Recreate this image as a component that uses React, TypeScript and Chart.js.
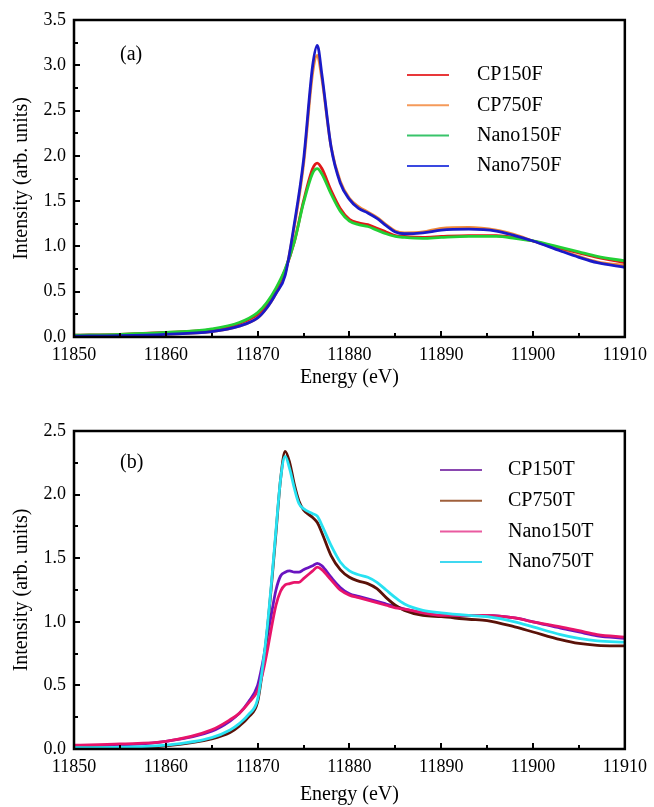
import React, { useEffect, useRef } from "react";
import { Chart, registerables } from "chart.js";
Chart.register(...registerables);

// ---------- Panel (a) data ----------
const energyA = [11850, 11855, 11860, 11865, 11868, 11870, 11871, 11872, 11873, 11874, 11875, 11876, 11876.5, 11877, 11878, 11879, 11880, 11881, 11882, 11883, 11884, 11885, 11886, 11888, 11890, 11893, 11896, 11898, 11900, 11903, 11905, 11907, 11910];
const cp150F = [0.02, 0.03, 0.05, 0.08, 0.15, 0.25, 0.36, 0.52, 0.74, 1.05, 1.5, 1.86, 1.92, 1.86, 1.62, 1.42, 1.3, 1.26, 1.24, 1.2, 1.16, 1.12, 1.11, 1.1, 1.11, 1.12, 1.12, 1.1, 1.06, 0.98, 0.93, 0.88, 0.82];
const cp750F = [0.01, 0.015, 0.03, 0.06, 0.12, 0.21, 0.32, 0.48, 0.7, 1.22, 1.9, 2.92, 3.11, 2.85, 2.1, 1.72, 1.53, 1.44, 1.38, 1.32, 1.24, 1.17, 1.15, 1.16, 1.2, 1.21, 1.18, 1.13, 1.06, 0.96, 0.89, 0.83, 0.79];
const nano150F = [0.02, 0.03, 0.05, 0.09, 0.16, 0.27, 0.38, 0.54, 0.75, 1.05, 1.48, 1.81, 1.86, 1.8, 1.58, 1.39, 1.28, 1.24, 1.22, 1.18, 1.14, 1.11, 1.1, 1.09, 1.1, 1.11, 1.11, 1.09, 1.06, 0.99, 0.94, 0.89, 0.84];
const nano750F = [0.01, 0.015, 0.03, 0.06, 0.12, 0.21, 0.32, 0.48, 0.68, 1.25, 1.95, 3.0, 3.22, 2.9, 2.1, 1.7, 1.52, 1.42, 1.37, 1.31, 1.23, 1.16, 1.14, 1.15, 1.18, 1.19, 1.17, 1.12, 1.06, 0.95, 0.88, 0.82, 0.77];

// ---------- Panel (b) data ----------
const energyB = [11850, 11855, 11860, 11865, 11867, 11868, 11869, 11870, 11870.5, 11871, 11871.5, 11872, 11872.5, 11873, 11873.5, 11874, 11874.5, 11875, 11876, 11876.5, 11877, 11878, 11879, 11880, 11881, 11882, 11883, 11884, 11885, 11886, 11888, 11890, 11893, 11895, 11898, 11900, 11903, 11905, 11907, 11910];
const cp150T = [0.02, 0.03, 0.06, 0.14, 0.22, 0.28, 0.37, 0.5, 0.66, 0.86, 1.06, 1.25, 1.36, 1.39, 1.4, 1.39, 1.39, 1.41, 1.44, 1.46, 1.44, 1.35, 1.27, 1.22, 1.2, 1.18, 1.16, 1.14, 1.12, 1.1, 1.07, 1.05, 1.05, 1.05, 1.03, 1.0, 0.95, 0.92, 0.89, 0.87];
const cp750T = [0.01, 0.01, 0.025, 0.08, 0.13, 0.18, 0.25, 0.37, 0.6, 0.9, 1.28, 1.7, 2.12, 2.34, 2.25, 2.08, 1.95, 1.88, 1.82, 1.78, 1.7, 1.52, 1.41, 1.35, 1.32, 1.3, 1.26, 1.19, 1.13, 1.09, 1.05, 1.04, 1.02, 1.01, 0.96, 0.92, 0.86, 0.83, 0.815, 0.81];
const nano150T = [0.03, 0.04, 0.06, 0.15, 0.23, 0.28, 0.36, 0.46, 0.58, 0.75, 0.95, 1.13, 1.24, 1.29, 1.3, 1.31, 1.31, 1.34, 1.4, 1.43, 1.41, 1.33, 1.25, 1.21, 1.19, 1.17, 1.15, 1.13, 1.11, 1.1, 1.07, 1.05, 1.05, 1.05, 1.03, 1.0, 0.96, 0.93, 0.9, 0.88];
const nano750T = [0.01, 0.015, 0.03, 0.09, 0.15, 0.2, 0.27, 0.39, 0.62, 0.92, 1.3, 1.72, 2.12, 2.3, 2.2, 2.05, 1.93, 1.89, 1.85, 1.83, 1.76, 1.6, 1.47, 1.4, 1.37, 1.35, 1.31, 1.25, 1.19, 1.14, 1.09, 1.07, 1.05, 1.04, 1.0, 0.96, 0.9, 0.87, 0.85, 0.84];

const xTicksMin = 11850;
const xTicksMax = 11910;

const FONT = '"Liberation Serif", "Times New Roman", serif';

const frameTicksPlugin = {
  id: "frameTicks",
  afterDatasetsDraw(chart: any, _args: any, opts: any) {
    const { ctx, chartArea: a, scales } = chart;
    const xs = scales.x;
    const ys = scales.y;
    ctx.save();
    // frame
    ctx.strokeStyle = "#000";
    ctx.lineWidth = 2.5;
    ctx.strokeRect(a.left, a.top, a.right - a.left, a.bottom - a.top);
    // inward ticks
    ctx.lineWidth = 2;
    ctx.beginPath();
    const nx = Math.round((xs.max - xs.min) / opts.xMinor);
    for (let i = 0; i <= nx; i++) {
      const v = xs.min + i * opts.xMinor;
      const px = Math.round(xs.getPixelForValue(v));
      const len = i % 2 === 0 ? 6 : 4;
      ctx.moveTo(px, a.bottom);
      ctx.lineTo(px, a.bottom - len);
    }
    const ny = Math.round((ys.max - ys.min) / opts.yMinor);
    for (let i = 0; i <= ny; i++) {
      const v = ys.min + i * opts.yMinor;
      const py = Math.round(ys.getPixelForValue(v));
      const len = i % 2 === 0 ? 6 : 4;
      ctx.moveTo(a.left, py);
      ctx.lineTo(a.left + len, py);
    }
    ctx.stroke();

    // panel label
    ctx.fillStyle = "#000";
    ctx.font = `20px ${FONT}`;
    ctx.textBaseline = "middle";
    ctx.textAlign = "left";
    ctx.fillText(opts.panel, a.left + opts.panelDx, a.top + opts.panelDy);

    // legend
    const ds = chart.data.datasets;
    ds.forEach((d: any, i: number) => {
      const y = a.top + opts.legDy + i * opts.legGap;
      const x0 = a.left + opts.legDx;
      ctx.strokeStyle = d.legendColor || d.borderColor;
      ctx.lineWidth = 2;
      ctx.beginPath();
      ctx.moveTo(x0, y);
      ctx.lineTo(x0 + 42, y);
      ctx.stroke();
      ctx.fillStyle = "#000";
      ctx.fillText(d.label, x0 + opts.legTextDx, y);
    });
    ctx.restore();
  },
};

function makeConfig(p: any) {
  const datasets = p.series.map((s: any) => ({
    label: s.label,
    data: p.energy.map((e: number, i: number) => ({ x: e, y: s.values[i] })),
    borderColor: s.color,
    legendColor: s.legendColor,
    borderWidth: 2.8,
    pointRadius: 0,
    fill: false,
    cubicInterpolationMode: "monotone",
    order: s.order,
  }));
  return {
    type: "line",
    data: { datasets },
    plugins: [frameTicksPlugin],
    options: {
      animation: false,
      responsive: false,
      devicePixelRatio: 1,
      layout: { padding: { left: 0, top: p.padTop, right: 25, bottom: 0 } },
      plugins: {
        legend: { display: false },
        tooltip: { enabled: false },
        frameTicks: {
          xMinor: 5,
          yMinor: p.yMinor,
          panel: p.panel,
          panelDx: 46,
          panelDy: p.panelDy,
          legDx: p.legDx,
          legDy: p.legDy,
          legGap: p.legGap,
          legTextDx: p.legTextDx,
        },
      },
      scales: {
        x: {
          type: "linear",
          min: xTicksMin,
          max: xTicksMax,
          afterFit: (s: any) => {
            s.height = p.xHeight;
          },
          ticks: {
            stepSize: 10,
            callback: (v: any) => String(v),
            font: { family: FONT, size: 18 },
            color: "#000",
            padding: 7,
            maxRotation: 0,
          },
          grid: { display: false, drawTicks: false },
          border: { display: false },
          title: {
            display: true,
            text: "Energy (eV)",
            font: { family: FONT, size: 20 },
            color: "#000",
            padding: { top: 0, bottom: p.xTitlePad },
          },
        },
        y: {
          type: "linear",
          min: 0,
          max: p.yMax,
          afterFit: (s: any) => {
            s.width = 74;
          },
          ticks: {
            stepSize: 0.5,
            callback: (v: any) => Number(v).toFixed(1),
            font: { family: FONT, size: 18 },
            color: "#000",
            padding: 8,
          },
          grid: { display: false, drawTicks: false },
          border: { display: false },
          title: {
            display: true,
            text: "Intensity (arb. units)",
            font: { family: FONT, size: 20 },
            color: "#000",
            padding: { top: 10, bottom: 0 },
          },
        },
      },
    },
  };
}

function Panel(props: { top: number; height: number; cfg: any }) {
  const ref = useRef<HTMLCanvasElement | null>(null);
  useEffect(() => {
    if (!ref.current) return;
    const chart = new Chart(ref.current, makeConfig(props.cfg) as any);
    return () => chart.destroy();
  }, []);
  return (
    <canvas
      ref={ref}
      width={654}
      height={props.height}
      style={{ position: "absolute", left: 0, top: props.top, width: 654, height: props.height }}
    />
  );
}

const panelA = {
  energy: energyA,
  panel: "(a)",
  yMax: 3.5,
  yMinor: 0.25,
  padTop: 20,
  xHeight: 63,
  xTitlePad: 10,
  panelDy: 35,
  legDx: 333,
  legDy: 55,
  legGap: 30.3,
  legTextDx: 70,
  series: [
    { label: "CP150F", values: cp150F, color: "#e01818", legendColor: "#e8383a", order: 2 },
    { label: "CP750F", values: cp750F, color: "#f08838", legendColor: "#f59a5a", order: 3 },
    { label: "Nano150F", values: nano150F, color: "#22d035", legendColor: "#38c46a", order: 1 },
    { label: "Nano750F", values: nano750F, color: "#1a1ac8", legendColor: "#3a48e0", order: 0 },
  ],
};

const panelB = {
  energy: energyB,
  panel: "(b)",
  yMax: 2.5,
  yMinor: 0.25,
  padTop: 31,
  xHeight: 58,
  xTitlePad: 0,
  panelDy: 32,
  legDx: 366,
  legDy: 39,
  legGap: 30.7,
  legTextDx: 68,
  series: [
    { label: "CP150T", values: cp150T, color: "#6a14c0", legendColor: "#8a48b0", order: 3 },
    { label: "CP750T", values: cp750T, color: "#5a1208", legendColor: "#a0603c", order: 2 },
    { label: "Nano150T", values: nano150T, color: "#e8146a", legendColor: "#ea5aa0", order: 1 },
    { label: "Nano750T", values: nano750T, color: "#28e2f2", legendColor: "#40d8f0", order: 0 },
  ],
};

export default function App() {
  return (
    <div style={{ position: "absolute", left: 0, top: 0, width: 654, height: 807, background: "#fff" }}>
      <Panel top={0} height={400} cfg={panelA} />
      <Panel top={400} height={407} cfg={panelB} />
    </div>
  );
}
